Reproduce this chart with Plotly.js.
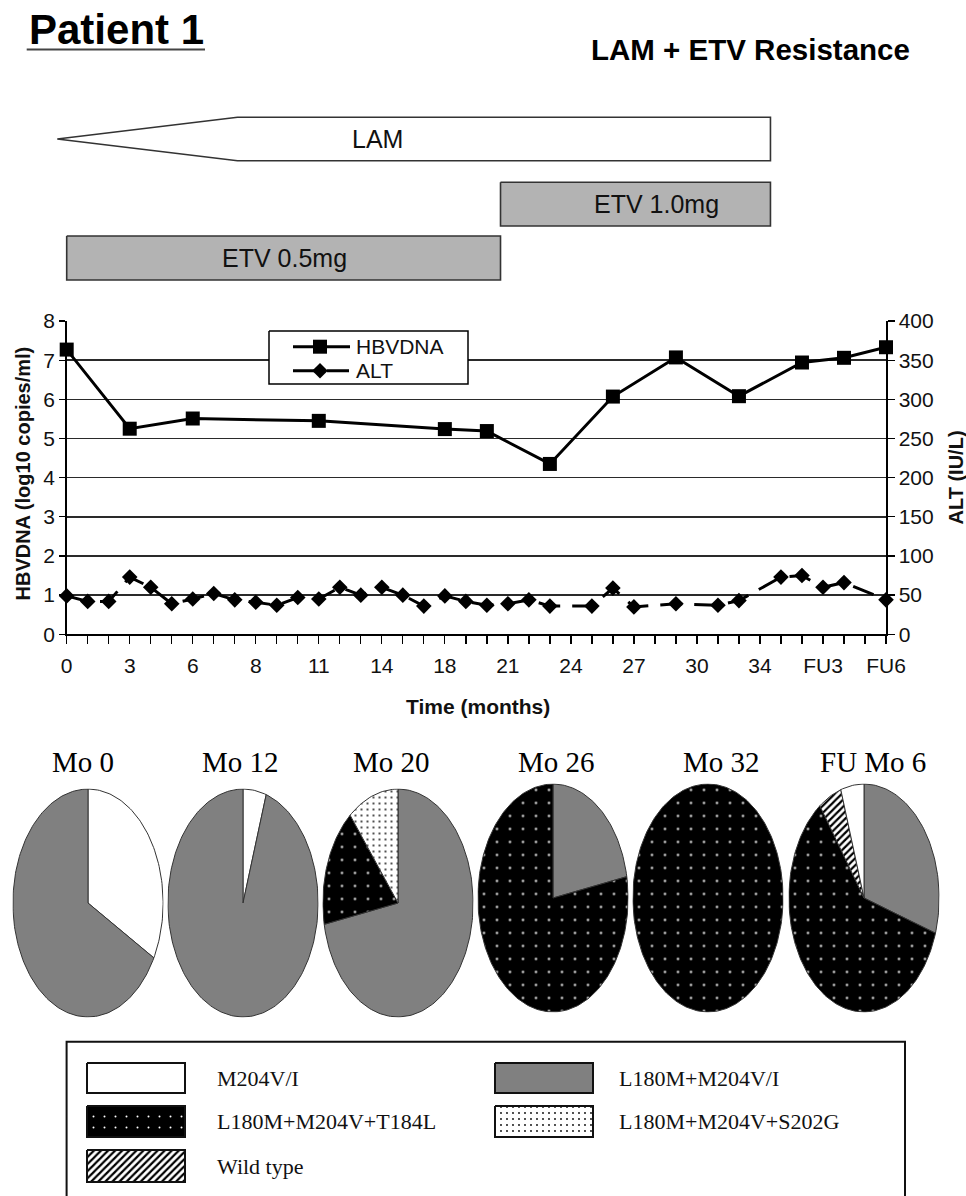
<!DOCTYPE html>
<html><head><meta charset="utf-8">
<script src="https://cdn.plot.ly/plotly-3.0.1.min.js"></script>
<style>html,body{margin:0;padding:0;background:#fff}#chart{width:966px;height:1196px}</style>
</head><body><div id="chart"></div>
<script>
// ---------------- data ----------------
const timeTickLabels = ['0','3','6','8','11','14','18','21','24','27','30','34','FU3','FU6'];
const visitCount = 40;            // visits on the time axis (one tick each)
const labelEvery = 3;             // a label on every third visit

const hbvVisit = [0,3,6,12,18,20,23,26,29,32,35,37,39];
const hbvLog   = [7.27,5.25,5.51,5.45,5.24,5.19,4.35,6.07,7.07,6.08,6.94,7.06,7.33];

const altVisit = [0,1,2,3,4,5,6,7,8,9,10,11,12,13,14,15,16,17,18,19,20,21,22,23,25,26,27,29,31,32,34,35,36,37,39];
const altIU    = [49,42,42,73,60,39,45,52,44,41,37,47,45,60,50,60,50,36,49,42,37,39,44,36,36,59,35,39,37,43,73,75,60,66,44];

const treatNames = ['LAM','ETV 1.0mg','ETV 0.5mg'];
const treatStart = [-0.45, 20.65, 0];
const treatEnd   = [33.5, 33.5, 20.65];

const pieTitles = ['Mo 0','Mo 12','Mo 20','Mo 26','Mo 32','FU Mo 6'];
const genotypes = ['M204V/I','L180M+M204V/I','L180M+M204V+T184L','L180M+M204V+S202G','Wild type'];
const pctM204V      = [33, 5,  0,  0,   0,  5];
const pctL180M204V  = [67, 95, 72, 22,  0,  30];
const pctT184L      = [0,  0,  17, 78,  100, 60];
const pctS202G      = [0,  0,  11, 0,   0,  0];
const pctWildType   = [0,  0,  0,  0,   0,  5];
const pieOrder = [[0,1],[0,1],[1,2,3],[1,2],[2],[1,2,4,0]]; // clockwise from 12 o'clock

// ---------------- geometry / styles ----------------
const W = 966, H = 1196;
const plotL = 66.7, plotR = 886, plotT = 321, plotB = 634.3;
const fx = p => p / W, fy = p => 1 - p / H;
const SANS = 'Liberation Sans, Arial, sans-serif';
const SERIF = 'Liberation Serif, Times New Roman, serif';

const genoStyle = [
  {fill:'#ffffff'},
  {fill:'#808080'},
  {fill:'#000000', pattern:{shape:'.', bgcolor:'#000', fgcolor:'#fff', size:13, solidity:0.025, fillmode:'replace'}},
  {fill:'#ffffff', pattern:{shape:'.', bgcolor:'#fff', fgcolor:'#000', size:6, solidity:0.07, fillmode:'replace'}},
  {fill:'#ffffff', pattern:{shape:'/', bgcolor:'#fff', fgcolor:'#000', size:5, solidity:0.45, fillmode:'replace'}}
];
const pctByGeno = [pctM204V, pctL180M204V, pctT184L, pctS202G, pctWildType];

const traces = [];
const layout = {
  width: W, height: H,
  margin: {l:0, r:0, t:0, b:0, pad:0},
  paper_bgcolor: '#fff', plot_bgcolor: 'rgba(0,0,0,0)',
  showlegend: false,
  font: {family: SANS, color: '#000'},
  annotations: [], shapes: []
};

// ---------------- main chart ----------------
const tickVals = [], tickText = [];
for (let i = 0; i < visitCount; i++) {
  tickVals.push(i);
  tickText.push(i % labelEvery === 0 ? timeTickLabels[i / labelEvery] : '');
}
layout.xaxis = {
  domain: [fx(plotL), fx(plotR)], range: [0, visitCount - 1], anchor: 'y',
  tickmode: 'array', tickvals: tickVals, ticktext: tickText,
  ticks: 'outside', ticklen: 8, tickwidth: 1.3, tickcolor: '#000', ticklabelstandoff: 4,
  showline: true, linecolor: '#000', linewidth: 1.5, showgrid: false, zeroline: false,
  tickfont: {family: SANS, size: 21, color: '#111'}, fixedrange: true
};
layout.yaxis = {
  domain: [fy(plotB), fy(plotT)], range: [0, 8], anchor: 'x',
  tickmode: 'linear', tick0: 0, dtick: 1,
  ticks: 'outside', ticklen: 6, tickwidth: 1.3, tickcolor: '#000',
  showline: true, linecolor: '#000', linewidth: 1.5,
  showgrid: true, gridcolor: '#2a2a2a', gridwidth: 1.4, zeroline: false,
  tickfont: {family: SANS, size: 21, color: '#111'}, fixedrange: true
};
layout.yaxis2 = {
  overlaying: 'y', side: 'right', anchor: 'x', range: [0, 400],
  tickmode: 'linear', tick0: 0, dtick: 50,
  ticks: 'outside', ticklen: 7, tickwidth: 1.3, tickcolor: '#000',
  showline: true, linecolor: '#000', linewidth: 1.5, showgrid: false, zeroline: false,
  tickfont: {family: SANS, size: 21, color: '#111'}, fixedrange: true
};
const altDash = '22px,12px';
traces.push({
  x: hbvVisit, y: hbvLog, xaxis: 'x', yaxis: 'y', name: 'HBVDNA',
  mode: 'lines+markers', cliponaxis: false,
  line: {color: '#000', width: 3},
  marker: {symbol: 'square', size: 14, color: '#000'}
});
traces.push({
  x: altVisit, y: altIU, xaxis: 'x', yaxis: 'y2', name: 'ALT',
  mode: 'lines+markers', cliponaxis: false,
  line: {color: '#000', width: 3, dash: altDash},
  marker: {symbol: 'diamond', size: 12, color: '#000'}
});

// ---------------- pies (elliptical) ----------------
const pieCx = [88, 243, 398, 553, 708, 864];
const pieCy = [903, 903, 903, 898, 898, 898];
const pieRx = 75.5, pieRy = 114.5;
const pieTitleX = [82.5, 240, 391, 556, 721, 872.5];
const pieTitleY = 762;

function arc(a0, a1, withCenter) {
  const xs = [], ys = [];
  if (withCenter) { xs.push(0); ys.push(0); }
  const n = Math.max(2, Math.ceil((a1 - a0) / 1.5));
  for (let i = 0; i <= n; i++) {
    const a = (a0 + (a1 - a0) * i / n) * Math.PI / 180;
    xs.push(Math.sin(a)); ys.push(Math.cos(a));
  }
  if (withCenter) { xs.push(0); ys.push(0); }
  return {xs, ys};
}

pieTitles.forEach((title, k) => {
  const xa = 'xaxis' + (k + 2), ya = 'yaxis' + (k + 3);
  layout[xa] = {domain: [fx(pieCx[k] - pieRx), fx(pieCx[k] + pieRx)], range: [-1.005, 1.005],
                visible: false, anchor: 'y' + (k + 3), fixedrange: true};
  layout[ya] = {domain: [fy(pieCy[k] + pieRy), fy(pieCy[k] - pieRy)], range: [-1.005, 1.005],
                visible: false, anchor: 'x' + (k + 2), fixedrange: true};
  const order = pieOrder[k];
  const total = order.reduce((s, g) => s + pctByGeno[g][k], 0);
  let a = 0;
  order.forEach(g => {
    const v = pctByGeno[g][k];
    if (!v) return;
    const span = 360 * v / total;
    const full = span >= 359.9;
    const p = arc(a, a + span, !full);
    const st = genoStyle[g];
    const tr = {
      x: p.xs, y: p.ys, xaxis: 'x' + (k + 2), yaxis: 'y' + (k + 3),
      mode: 'lines', fill: 'toself', fillcolor: st.fill,
      line: {color: '#333', width: 1}, name: genotypes[g], hoverinfo: 'skip'
    };
    if (st.pattern) tr.fillpattern = st.pattern;
    traces.push(tr);
    a += span;
  });
  layout.annotations.push({
    xref: 'paper', yref: 'paper', x: fx(pieTitleX[k]), y: fy(pieTitleY),
    xanchor: 'center', yanchor: 'middle', showarrow: false, text: title,
    font: {family: SERIF, size: 29, color: '#000'}
  });
});

// ---------------- overlay axes (page pixels, and months aligned to main axis) ----------------
layout.xaxis8 = {domain: [0, 1], range: [0, W], visible: false, anchor: 'y9', fixedrange: true};
layout.yaxis9 = {domain: [0, 1], range: [H, 0], visible: false, anchor: 'x8', fixedrange: true};
const unitPx = (plotR - plotL) / (visitCount - 1);
layout.xaxis9 = {domain: [0, 1], range: [-plotL / unitPx, (W - plotL) / unitPx],
                 visible: false, anchor: 'y9', fixedrange: true};

// treatment bars
const treatRowTop = [117.3, 182.3, 236];
const treatRowBot = [160.7, 226, 280];
const lamTaperEnd = 8.13;
const treatLabelX = [377.6, 656, 284.5];
treatNames.forEach((nm, i) => {
  const t = treatRowTop[i], b = treatRowBot[i], m = (t + b) / 2;
  let xs, ys, fill;
  if (i === 0) {
    xs = [treatStart[i], lamTaperEnd, treatEnd[i], treatEnd[i], lamTaperEnd, treatStart[i]];
    ys = [m, t, t, b, b, m];
    fill = '#ffffff';
  } else {
    xs = [treatStart[i], treatEnd[i], treatEnd[i], treatStart[i], treatStart[i]];
    ys = [t, t, b, b, t];
    fill = '#b3b3b3';
  }
  traces.push({x: xs, y: ys, xaxis: 'x9', yaxis: 'y9', mode: 'lines', fill: 'toself',
               fillcolor: fill, line: {color: '#333', width: 1.6}, hoverinfo: 'skip'});
  layout.annotations.push({xref: 'x8', yref: 'y9', x: treatLabelX[i], y: m - 0.5,
    xanchor: 'center', yanchor: 'middle', showarrow: false, text: nm,
    font: {family: SANS, size: 25, color: '#111'}});
});

// main legend box
const lgL = 269, lgR = 468, lgT = 331, lgB = 384;
traces.push({x: [lgL, lgR, lgR, lgL, lgL], y: [lgT, lgT, lgB, lgB, lgT], xaxis: 'x8', yaxis: 'y9',
             mode: 'lines', fill: 'toself', fillcolor: '#fff', line: {color: '#000', width: 1.5}, hoverinfo: 'skip'});
const lgRowY = [346.7, 370.7];
traces.push({x: [293, 350], y: [lgRowY[0], lgRowY[0]], xaxis: 'x8', yaxis: 'y9', mode: 'lines',
             line: {color: '#000', width: 3}, hoverinfo: 'skip'});
traces.push({x: [320], y: [lgRowY[0]], xaxis: 'x8', yaxis: 'y9', mode: 'markers',
             marker: {symbol: 'square', size: 14, color: '#000'}, hoverinfo: 'skip'});
traces.push({x: [293, 350], y: [lgRowY[1], lgRowY[1]], xaxis: 'x8', yaxis: 'y9', mode: 'lines',
             line: {color: '#000', width: 3, dash: altDash}, hoverinfo: 'skip'});
traces.push({x: [320], y: [lgRowY[1]], xaxis: 'x8', yaxis: 'y9', mode: 'markers',
             marker: {symbol: 'diamond', size: 12, color: '#000'}, hoverinfo: 'skip'});
['HBVDNA', 'ALT'].forEach((t, i) => layout.annotations.push({
  xref: 'x8', yref: 'y9', x: 354, y: lgRowY[i], xanchor: 'left', yanchor: 'middle',
  showarrow: false, text: t, font: {family: SANS, size: 21, color: '#111'}}));

// genotype legend
const gbL = 66.6, gbR = 905, gbT = 1041.7;
traces.push({x: [gbL, gbL, gbR, gbR], y: [H + 20, gbT, gbT, H + 20], xaxis: 'x8', yaxis: 'y9',
             mode: 'lines', line: {color: '#111', width: 2}, hoverinfo: 'skip'});
const swCol = [[87, 185], [495, 593]], txtCol = [215, 617];
const swRow = [[1063, 1093], [1106, 1137], [1150, 1182]];
const genoCol = [0, 1, 0, 1, 0], genoRow = [0, 0, 1, 1, 2];
genotypes.forEach((g, i) => {
  const c = swCol[genoCol[i]], r = swRow[genoRow[i]], st = genoStyle[i];
  const tr = {x: [c[0], c[1], c[1], c[0], c[0]], y: [r[0], r[0], r[1], r[1], r[0]],
              xaxis: 'x8', yaxis: 'y9', mode: 'lines', fill: 'toself', fillcolor: st.fill,
              line: {color: '#111', width: 2}, hoverinfo: 'skip'};
  if (st.pattern) tr.fillpattern = Object.assign({}, st.pattern, st.pattern.shape === '.' && st.pattern.size > 10 ? {size: 11} : {});
  traces.push(tr);
  layout.annotations.push({xref: 'x8', yref: 'y9', x: txtCol[genoCol[i]], y: (r[0] + r[1]) / 2,
    xanchor: 'left', yanchor: 'middle', showarrow: false, text: g,
    font: {family: SERIF, size: 22, color: '#111'}});
});

// titles and axis titles
layout.annotations.push(
  {xref: 'paper', yref: 'paper', x: fx(26.7), y: fy(29), xanchor: 'left', yanchor: 'middle', showarrow: false,
   text: '<b>Patient 1</b>', font: {family: SANS, size: 42, color: '#000'}},
  {xref: 'paper', yref: 'paper', x: fx(750.5), y: fy(49), xanchor: 'center', yanchor: 'middle', showarrow: false,
   text: '<b>LAM + ETV Resistance</b>', font: {family: SANS, size: 29.5, color: '#000'}},
  {xref: 'paper', yref: 'paper', x: fx(22.5), y: fy(474), xanchor: 'center', yanchor: 'middle', showarrow: false,
   textangle: -90, text: '<b>HBVDNA (log10 copies/ml)</b>', font: {family: SANS, size: 20, color: '#111'}},
  {xref: 'paper', yref: 'paper', x: fx(955.5), y: fy(478), xanchor: 'center', yanchor: 'middle', showarrow: false,
   textangle: -90, text: '<b>ALT (IU/L)</b>', font: {family: SANS, size: 20, color: '#111'}},
  {xref: 'paper', yref: 'paper', x: fx(478), y: fy(706), xanchor: 'center', yanchor: 'middle', showarrow: false,
   text: '<b>Time (months)</b>', font: {family: SANS, size: 21, color: '#111'}}
);
layout.shapes.push({type: 'line', xref: 'paper', yref: 'paper', x0: fx(26.7), x1: fx(205), y0: fy(49.5), y1: fy(49.5),
                    line: {color: '#444', width: 2}});

Plotly.newPlot('chart', traces, layout, {staticPlot: true, displayModeBar: false});
</script>
</body></html>
